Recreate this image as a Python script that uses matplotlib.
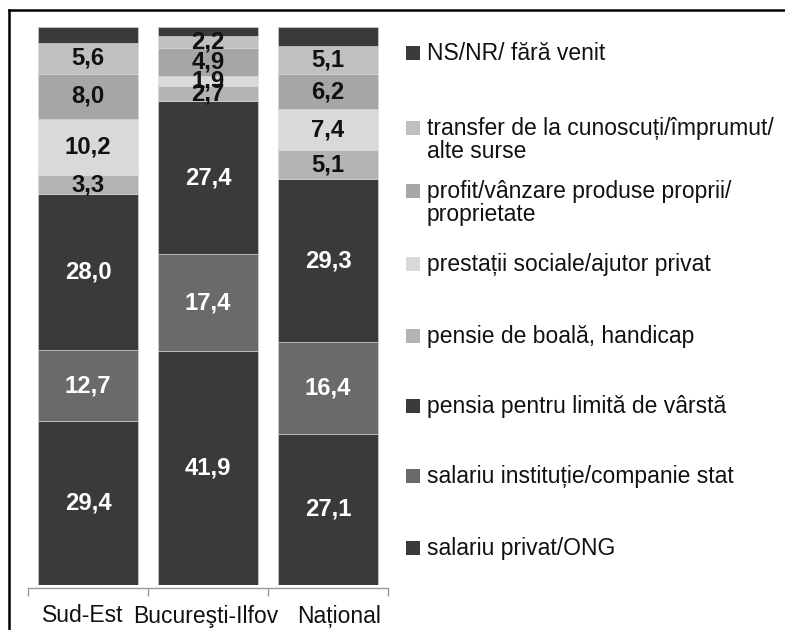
import matplotlib
matplotlib.use("Agg")
import matplotlib.pyplot as plt
from matplotlib.lines import Line2D
from matplotlib.patches import Rectangle
import matplotlib.transforms as mtransforms
import numpy as np

plt.rcParams['font.family'] = ['Liberation Sans', 'DejaVu Sans']

categories = ["Sud-Est", "Bucureşti-Ilfov", "Național"]

salariu_privat = [29.4, 41.9, 27.1]
salariu_stat = [12.7, 17.4, 16.4]
pensia_varsta = [28.0, 27.4, 29.3]
pensie_boala = [3.3, 2.7, 5.1]
prestatii = [10.2, 1.9, 7.4]
profit = [8.0, 4.9, 6.2]
transfer = [5.6, 2.2, 5.1]
ns_nr = [2.8, 1.6, 3.4]

series_names = [
    "salariu privat/ONG",
    "salariu instituție/companie stat",
    "pensia pentru limită de vârstă",
    "pensie de boală, handicap",
    "prestații sociale/ajutor privat",
    "profit/vânzare produse proprii/\nproprietate",
    "transfer de la cunoscuți/împrumut/\nalte surse",
    "NS/NR/ fără venit",
]
series_values = [salariu_privat, salariu_stat, pensia_varsta, pensie_boala,
                 prestatii, profit, transfer, ns_nr]
colors = ["#3a3a3a", "#6a6a6a", "#3a3a3a", "#b4b4b4",
          "#d9d9d9", "#a6a6a6", "#c0c0c0", "#3a3a3a"]
label_colors = ["white", "white", "white", "#111111",
                "#111111", "#111111", "#111111", None]

W, H = 785, 630
fig = plt.figure(figsize=(W / 100, H / 100), dpi=100)
ax = fig.add_axes([28 / W, 1 - 585 / H, 360 / W, 558 / H])

x = np.arange(len(categories))
bottom = np.zeros(len(categories))
for vals, col, lc in zip(series_values, colors, label_colors):
    vals = np.array(vals)
    ax.bar(x, vals, bottom=bottom, width=100 / 120, color=col,
           edgecolor="#d8d8d8", linewidth=0.4)
    if lc is not None:
        for xi, v, b in zip(x, vals, bottom):
            ax.text(xi, b + v / 2, f"{v:.1f}".replace(".", ","),
                    ha="center", va="center", color=lc,
                    fontsize=17.2, fontweight="bold")
    bottom += vals

ax.set_xlim(-0.5, 2.5)
ax.set_ylim(0, 100)
for s in ["top", "right", "left"]:
    ax.spines[s].set_visible(False)
ax.spines["bottom"].set_color("#999999")
ax.spines["bottom"].set_linewidth(1.0)
ax.spines["bottom"].set_position(("outward", 2))
ax.set_yticks([])
ax.set_xticks(np.arange(len(categories) + 1) - 0.5)
ax.set_xticklabels([])
ax.tick_params(axis="x", which="major", length=6, color="#999999", width=1.0)

# category labels (Excel-style spread to avoid crowding)
label_dx = [-5, -2, 11]
for xi, cat, dx in zip(x, categories, label_dx):
    tr = mtransforms.blended_transform_factory(ax.transData, ax.transAxes) + \
        mtransforms.ScaledTranslation(dx / 100, 0, fig.dpi_scale_trans)
    ax.text(xi, -31 / 558, cat, transform=tr, ha="center", va="center",
            fontsize=16.5, color="#111111")

# legend (manual, top entry = last series)
legend_y = [548, 476, 406, 336, 264, 191, 128, 53]
for name, col, yc in zip(series_names, colors, legend_y):
    fig.patches.append(Rectangle((406 / W, 1 - (yc + 7) / H), 14 / W, 14 / H,
                                 transform=fig.transFigure, facecolor=col,
                                 edgecolor="none"))
    fig.text(427 / W, 1 - (yc - 11) / H, name, ha="left", va="top",
             fontsize=16.5, color="#111111", linespacing=1.0)

# outer frame lines (top and left)
fig.add_artist(Line2D([9 / W, 1], [1 - 10 / H, 1 - 10 / H], color="black",
                      linewidth=1.8, transform=fig.transFigure))
fig.add_artist(Line2D([9 / W, 9 / W], [0, 1 - 10 / H], color="black",
                      linewidth=1.8, transform=fig.transFigure))

fig.savefig("out.png", dpi=100)
